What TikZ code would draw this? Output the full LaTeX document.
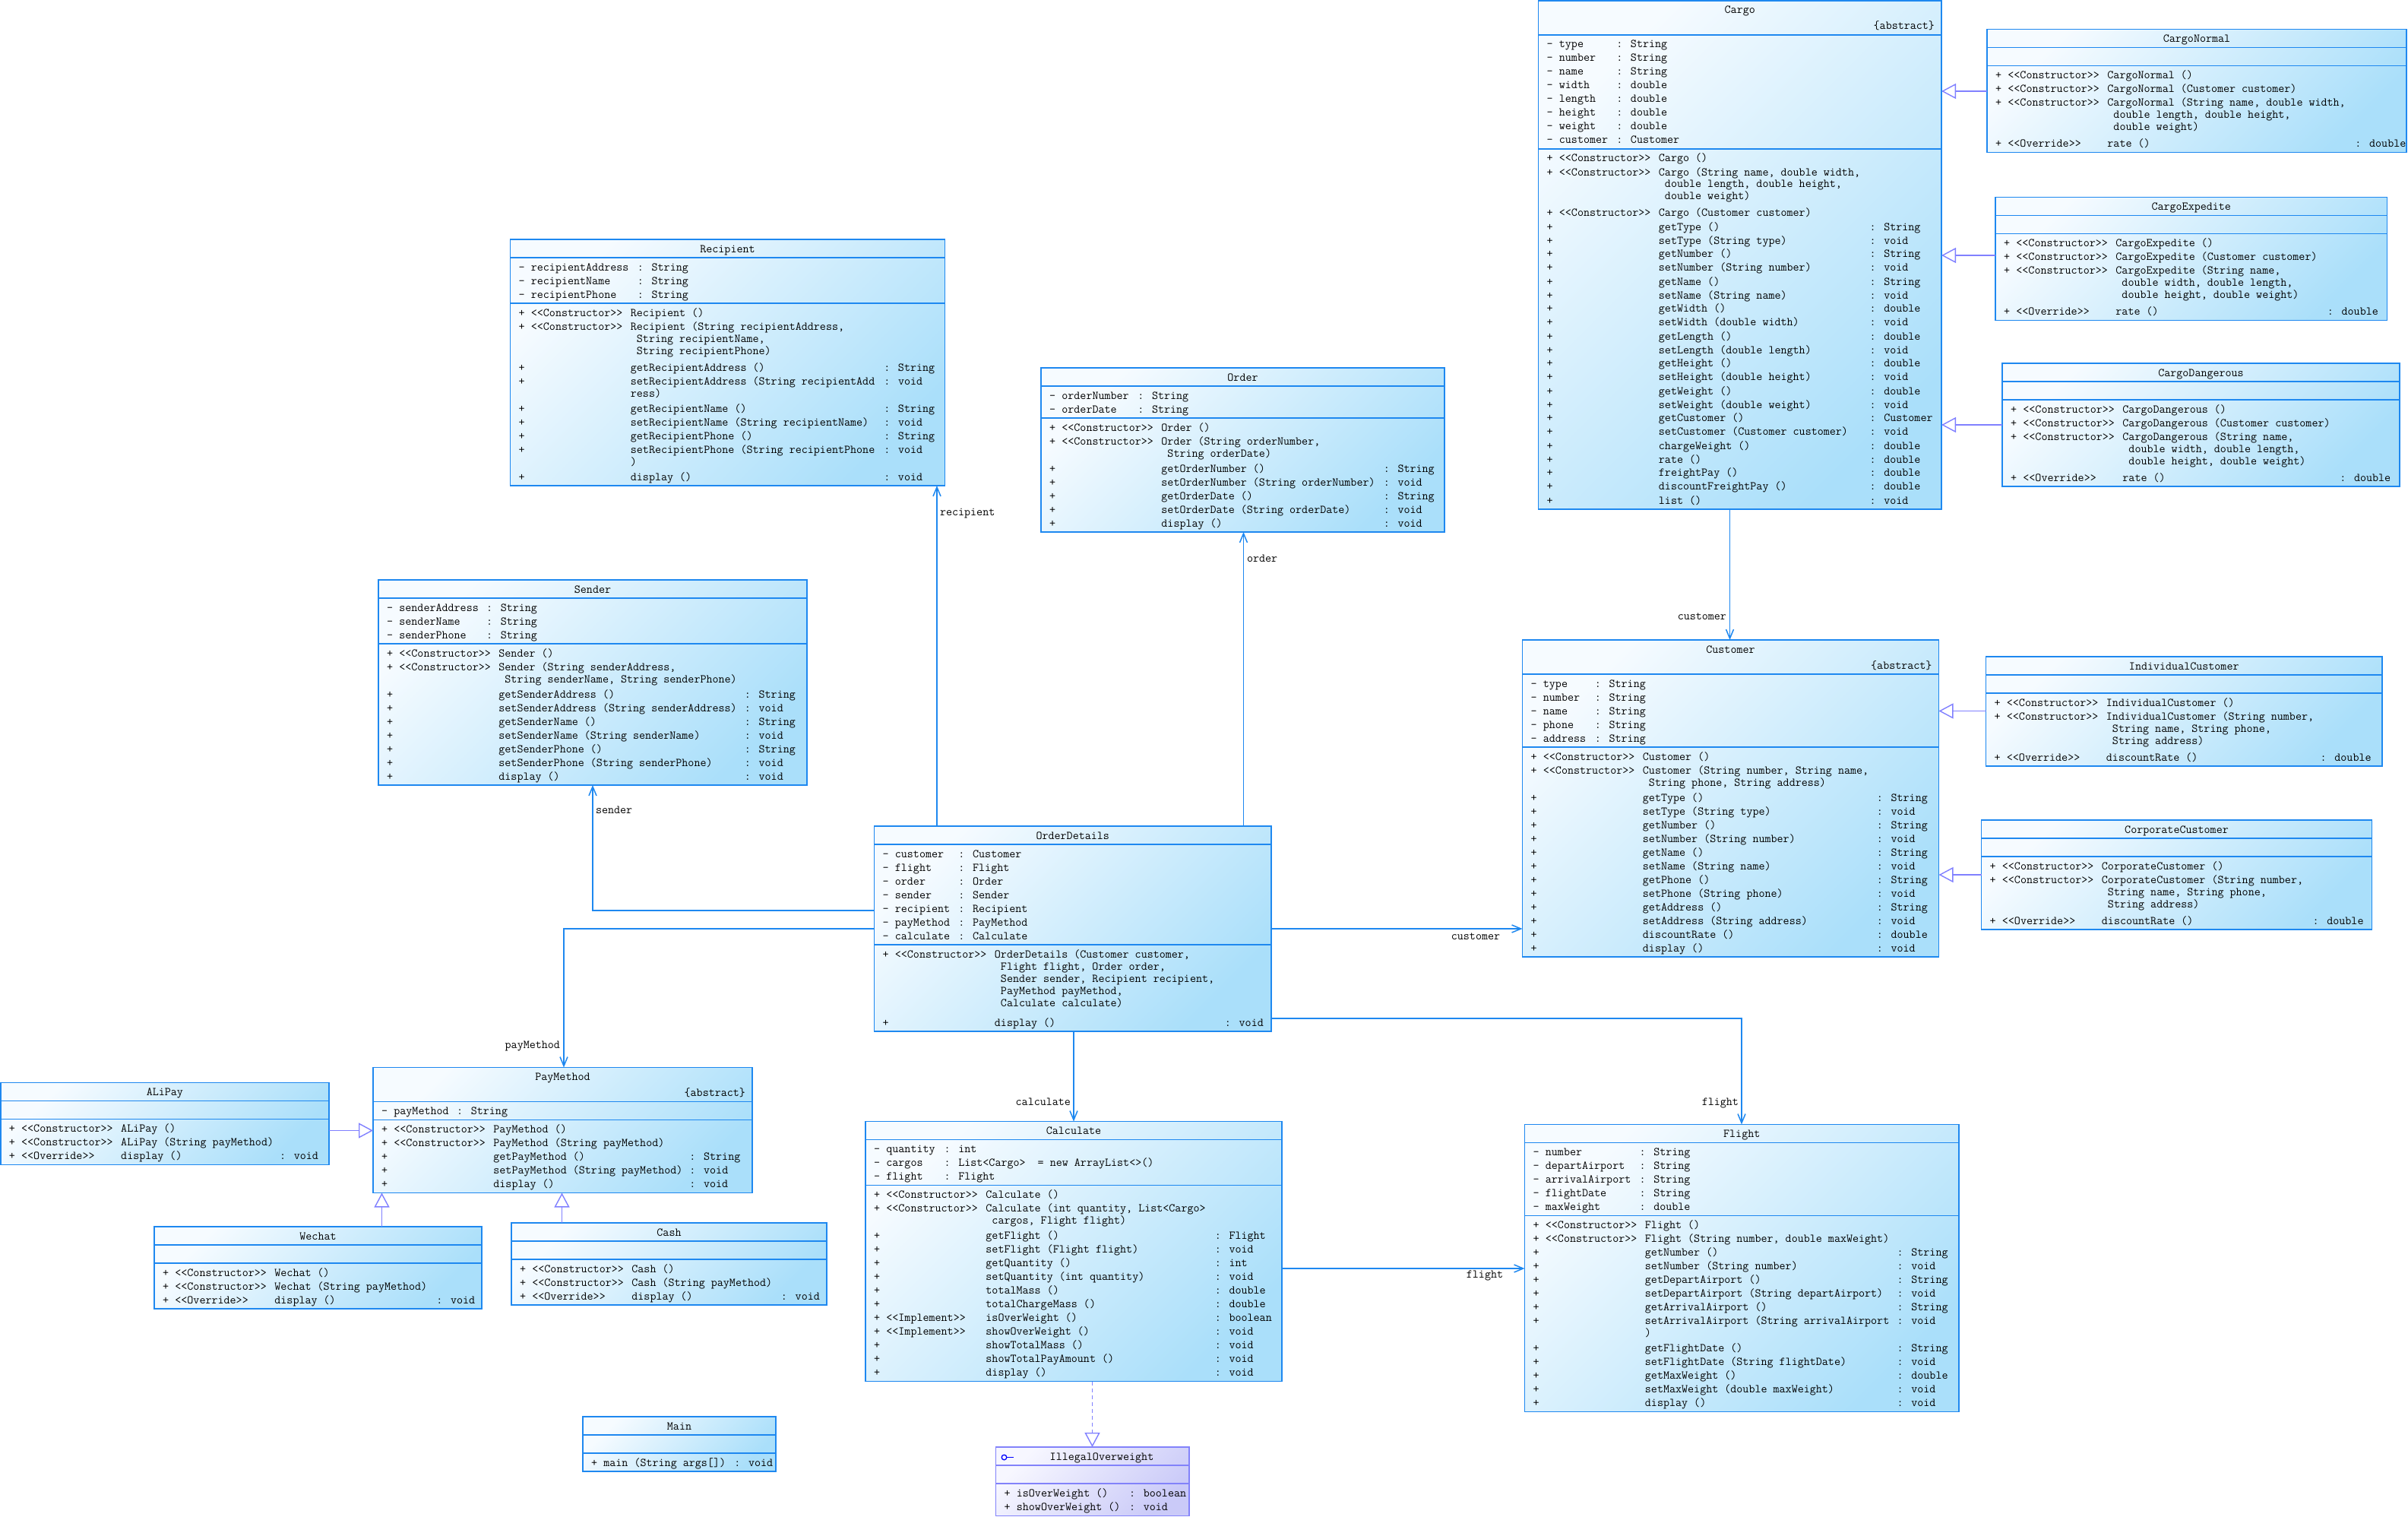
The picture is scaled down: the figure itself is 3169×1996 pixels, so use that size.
\documentclass[tikz,border=0pt]{standalone}
\usetikzlibrary{arrows.meta}
\definecolor{bc}{RGB}{30,136,240}
\definecolor{lt}{RGB}{246,251,255}
\definecolor{dk}{RGB}{170,223,250}
\definecolor{pc}{RGB}{130,130,250}
\definecolor{plt}{RGB}{247,247,255}
\definecolor{pdk}{RGB}{202,202,248}
\definecolor{gc}{RGB}{128,128,255}
\definecolor{icn}{RGB}{0,0,255}
\newlength\chw \setlength\chw{8.19pt}
\newcount\ccnt
\newcommand\mono{\ttfamily\fontsize{15.6}{18}\selectfont}
\newcommand\atc[2]{\rlap{\hspace*{#1\chw}#2}}
\newcommand\prerow{\ifnum\ccnt>0 \vskip\numexpr2*\ccnt\relax pt\global\ccnt=0 \fi}
\newcommand\mrow[3]{\prerow\hbox{\atc{0}{+}\atc{2}{#1}\atc{\ncol}{#2}\ifx\relax#3\relax\else\atc{\ccol}{: #3}\fi}}
\newcommand\crow[1]{\vskip-2pt\global\advance\ccnt by 1\relax\hbox{\atc{\ncol}{#1}}}
\newcommand\arow[2]{\hbox{\atc{0}{-}\atc{2}{#1}\atc{\acol}{: #2}}}
\tikzset{
  cls/.style={draw=bc, line width=1.6pt, top color=lt, bottom color=dk, shading angle=45, inner sep=0pt, outer sep=0pt, anchor=north west},
  ifc/.style={draw=pc, line width=1.6pt, top color=plt, bottom color=pdk, shading angle=45, inner sep=0pt, outer sep=0pt, anchor=north west},
  sep/.style={draw=bc, line width=1.5pt},
  psep/.style={draw=pc, line width=1.5pt},
  tx/.style={font=\mono, inner sep=0pt, outer sep=0pt, text=black},
  assoc/.style={draw=bc, line width=1.5pt, -{Straight Barb[length=12pt,width=10pt]}},
  gen/.style={draw=gc, line width=1.4pt, -{Triangle[open,length=19pt,width=20pt]}},
  real/.style={gen, dash pattern=on 5pt off 4pt},
}
\newcommand\ubox[6]{\node[#6, minimum width={(#4-#2)*1pt}, minimum height={(#5-#3)*1pt}] (#1) at (#2,#3) {};}
\newcommand\comp[4]{\node[tx, anchor=base west] (#1) at (#2,#3) {\global\ccnt=0\relax\vtop{#4}};}
\begin{document}
\begin{tikzpicture}[x=1pt,y=-1pt]
\fill[white] (0,0) rectangle (3169,1996);
\useasboundingbox (0,0) rectangle (3169,1996);

% ---------------- Cargo
\ubox{cargo}{2024.5}{1}{2555}{670}{cls}
\draw[sep] (2024.5,46) -- (2555,46);
\draw[sep] (2024.5,196) -- (2555,196);
\node[tx,anchor=base] (cargo-t) at (2289.75,18) {Cargo};
\node[tx,anchor=base east] (cargo-s) at (2546,39) {\{abstract\}};
\comp{cargo-a}{2035}{63}{\def\acol{11.2}
\arow{type}{String}
\arow{number}{String}
\arow{name}{String}
\arow{width}{double}
\arow{length}{double}
\arow{height}{double}
\arow{weight}{double}
\arow{customer}{Customer}}
\comp{cargo-m}{2035}{213}{\def\ncol{18}\def\ccol{51.9}
\mrow{<<Constructor>>}{Cargo ()}{}
\mrow{<<Constructor>>}{Cargo (String name, double width,}{}
\crow{\ double length, double height,}
\crow{\ double weight)}
\mrow{<<Constructor>>}{Cargo (Customer customer)}{}
\mrow{}{getType ()}{String}
\mrow{}{setType (String type)}{void}
\mrow{}{getNumber ()}{String}
\mrow{}{setNumber (String number)}{void}
\mrow{}{getName ()}{String}
\mrow{}{setName (String name)}{void}
\mrow{}{getWidth ()}{double}
\mrow{}{setWidth (double width)}{void}
\mrow{}{getLength ()}{double}
\mrow{}{setLength (double length)}{void}
\mrow{}{getHeight ()}{double}
\mrow{}{setHeight (double height)}{void}
\mrow{}{getWeight ()}{double}
\mrow{}{setWeight (double weight)}{void}
\mrow{}{getCustomer ()}{Customer}
\mrow{}{setCustomer (Customer customer)}{void}
\mrow{}{chargeWeight ()}{double}
\mrow{}{rate ()}{double}
\mrow{}{freightPay ()}{double}
\mrow{}{discountFreightPay ()}{double}
\mrow{}{list ()}{void}}

% ---------------- CargoNormal
\ubox{cnorm}{2615}{38.5}{3167}{200.5}{cls}
\draw[sep] (2615,62.5) -- (3167,62.5);
\draw[sep] (2615,86.5) -- (3167,86.5);
\node[tx,anchor=base] (cnorm-t) at (2891,55.5) {CargoNormal};
\comp{cnorm-m}{2625.5}{103.5}{\def\ncol{18}\def\ccol{57.8}
\mrow{<<Constructor>>}{CargoNormal ()}{}
\mrow{<<Constructor>>}{CargoNormal (Customer customer)}{}
\mrow{<<Constructor>>}{CargoNormal (String name, double width,}{}
\crow{\ double length, double height,}
\crow{\ double weight)}
\mrow{<<Override>>}{rate ()}{double}}

% ---------------- CargoExpedite
\ubox{cexp}{2626}{259.5}{3141.5}{421.5}{cls}
\draw[sep] (2626,283.5) -- (3141.5,283.5);
\draw[sep] (2626,307.5) -- (3141.5,307.5);
\node[tx,anchor=base] (cexp-t) at (2883.75,276.5) {CargoExpedite};
\comp{cexp-m}{2636.5}{324.5}{\def\ncol{18}\def\ccol{52}
\mrow{<<Constructor>>}{CargoExpedite ()}{}
\mrow{<<Constructor>>}{CargoExpedite (Customer customer)}{}
\mrow{<<Constructor>>}{CargoExpedite (String name,}{}
\crow{\ double width, double length,}
\crow{\ double height, double weight)}
\mrow{<<Override>>}{rate ()}{double}}

% ---------------- CargoDangerous
\ubox{cdng}{2635}{478}{3158}{640}{cls}
\draw[sep] (2635,502) -- (3158,502);
\draw[sep] (2635,526) -- (3158,526);
\node[tx,anchor=base] (cdng-t) at (2896.5,495) {CargoDangerous};
\comp{cdng-m}{2645.5}{543}{\def\ncol{18}\def\ccol{52.9}
\mrow{<<Constructor>>}{CargoDangerous ()}{}
\mrow{<<Constructor>>}{CargoDangerous (Customer customer)}{}
\mrow{<<Constructor>>}{CargoDangerous (String name,}{}
\crow{\ double width, double length,}
\crow{\ double height, double weight)}
\mrow{<<Override>>}{rate ()}{double}}

% ---------------- Recipient
\ubox{recipient}{671.5}{315}{1243.5}{639}{cls}
\draw[sep] (671.5,339) -- (1243.5,339);
\draw[sep] (671.5,399) -- (1243.5,399);
\node[tx,anchor=base] (recipient-t) at (957.5,332) {Recipient};
\comp{recipient-a}{682}{356}{\def\acol{19.1}
\arow{recipientAddress}{String}
\arow{recipientName}{String}
\arow{recipientPhone}{String}}
\comp{recipient-m}{682}{416}{\def\ncol{18}\def\ccol{58.7}
\mrow{<<Constructor>>}{Recipient ()}{}
\mrow{<<Constructor>>}{Recipient (String recipientAddress,}{}
\crow{\ String recipientName,}
\crow{\ String recipientPhone)}
\mrow{}{getRecipientAddress ()}{String}
\mrow{}{setRecipientAddress (String recipientAdd}{void}
\crow{ress)}
\mrow{}{getRecipientName ()}{String}
\mrow{}{setRecipientName (String recipientName)}{void}
\mrow{}{getRecipientPhone ()}{String}
\mrow{}{setRecipientPhone (String recipientPhone}{void}
\crow{)}
\mrow{}{display ()}{void}}

% ---------------- Order
\ubox{order}{1370}{484}{1901}{700}{cls}
\draw[sep] (1370,508) -- (1901,508);
\draw[sep] (1370,550) -- (1901,550);
\node[tx,anchor=base] (order-t) at (1635.5,501) {Order};
\comp{order-a}{1380.5}{525}{\def\acol{14.2}
\arow{orderNumber}{String}
\arow{orderDate}{String}}
\comp{order-m}{1380.5}{567}{\def\ncol{18}\def\ccol{53.7}
\mrow{<<Constructor>>}{Order ()}{}
\mrow{<<Constructor>>}{Order (String orderNumber,}{}
\crow{\ String orderDate)}
\mrow{}{getOrderNumber ()}{String}
\mrow{}{setOrderNumber (String orderNumber)}{void}
\mrow{}{getOrderDate ()}{String}
\mrow{}{setOrderDate (String orderDate)}{void}
\mrow{}{display ()}{void}}

% ---------------- Sender
\ubox{sender}{498}{763}{1062}{1033}{cls}
\draw[sep] (498,787) -- (1062,787);
\draw[sep] (498,847) -- (1062,847);
\node[tx,anchor=base] (sender-t) at (780,780) {Sender};
\comp{sender-a}{508.5}{804}{\def\acol{16}
\arow{senderAddress}{String}
\arow{senderName}{String}
\arow{senderPhone}{String}}
\comp{sender-m}{508.5}{864}{\def\ncol{18}\def\ccol{57.5}
\mrow{<<Constructor>>}{Sender ()}{}
\mrow{<<Constructor>>}{Sender (String senderAddress,}{}
\crow{\ String senderName, String senderPhone)}
\mrow{}{getSenderAddress ()}{String}
\mrow{}{setSenderAddress (String senderAddress)}{void}
\mrow{}{getSenderName ()}{String}
\mrow{}{setSenderName (String senderName)}{void}
\mrow{}{getSenderPhone ()}{String}
\mrow{}{setSenderPhone (String senderPhone)}{void}
\mrow{}{display ()}{void}}

% ---------------- Customer
\ubox{customer}{2003.5}{842}{2551.5}{1259}{cls}
\draw[sep] (2003.5,887) -- (2551.5,887);
\draw[sep] (2003.5,983) -- (2551.5,983);
\node[tx,anchor=base] (customer-t) at (2277.5,859) {Customer};
\node[tx,anchor=base east] (customer-s) at (2542.5,880) {\{abstract\}};
\comp{customer-a}{2014}{904}{\def\acol{10.3}
\arow{type}{String}
\arow{number}{String}
\arow{name}{String}
\arow{phone}{String}
\arow{address}{String}}
\comp{customer-m}{2014}{1000}{\def\ncol{18}\def\ccol{55.6}
\mrow{<<Constructor>>}{Customer ()}{}
\mrow{<<Constructor>>}{Customer (String number, String name,}{}
\crow{\ String phone, String address)}
\mrow{}{getType ()}{String}
\mrow{}{setType (String type)}{void}
\mrow{}{getNumber ()}{String}
\mrow{}{setNumber (String number)}{void}
\mrow{}{getName ()}{String}
\mrow{}{setName (String name)}{void}
\mrow{}{getPhone ()}{String}
\mrow{}{setPhone (String phone)}{void}
\mrow{}{getAddress ()}{String}
\mrow{}{setAddress (String address)}{void}
\mrow{}{discountRate ()}{double}
\mrow{}{display ()}{void}}

% ---------------- IndividualCustomer
\ubox{indiv}{2613.5}{864}{3135}{1008}{cls}
\draw[sep] (2613.5,888) -- (3135,888);
\draw[sep] (2613.5,912) -- (3135,912);
\node[tx,anchor=base] (indiv-t) at (2874.25,881) {IndividualCustomer};
\comp{indiv-m}{2624}{929}{\def\ncol{18}\def\ccol{52.4}
\mrow{<<Constructor>>}{IndividualCustomer ()}{}
\mrow{<<Constructor>>}{IndividualCustomer (String number,}{}
\crow{\ String name, String phone,}
\crow{\ String address)}
\mrow{<<Override>>}{discountRate ()}{double}}

% ---------------- CorporateCustomer
\ubox{corp}{2607.5}{1079}{3121.5}{1223}{cls}
\draw[sep] (2607.5,1103) -- (3121.5,1103);
\draw[sep] (2607.5,1127) -- (3121.5,1127);
\node[tx,anchor=base] (corp-t) at (2864.5,1096) {CorporateCustomer};
\comp{corp-m}{2618}{1144}{\def\ncol{18}\def\ccol{51.9}
\mrow{<<Constructor>>}{CorporateCustomer ()}{}
\mrow{<<Constructor>>}{CorporateCustomer (String number,}{}
\crow{\ String name, String phone,}
\crow{\ String address)}
\mrow{<<Override>>}{discountRate ()}{double}}

% ---------------- OrderDetails
\ubox{od}{1150.5}{1087}{1673}{1357}{cls}
\draw[sep] (1150.5,1111) -- (1673,1111);
\draw[sep] (1150.5,1243) -- (1673,1243);
\node[tx,anchor=base] (od-t) at (1411.75,1104) {OrderDetails};
\comp{od-a}{1161}{1128}{\def\acol{12.2}
\arow{customer}{Customer}
\arow{flight}{Flight}
\arow{order}{Order}
\arow{sender}{Sender}
\arow{recipient}{Recipient}
\arow{payMethod}{PayMethod}
\arow{calculate}{Calculate}}
\comp{od-m}{1161}{1260}{\def\ncol{18}\def\ccol{55}
\mrow{<<Constructor>>}{OrderDetails (Customer customer,}{}
\crow{\ Flight flight, Order order,}
\crow{\ Sender sender, Recipient recipient,}
\crow{\ PayMethod payMethod,}
\crow{\ Calculate calculate)}
\mrow{}{display ()}{void}}

% ---------------- PayMethod
\ubox{paym}{491}{1404.5}{990}{1569.5}{cls}
\draw[sep] (491,1449.5) -- (990,1449.5);
\draw[sep] (491,1473.5) -- (990,1473.5);
\node[tx,anchor=base] (paym-t) at (740.5,1421.5) {PayMethod};
\node[tx,anchor=base east] (paym-s) at (981,1442.5) {\{abstract\}};
\comp{paym-a}{501.5}{1466.5}{\def\acol{12.1}
\arow{payMethod}{String}}
\comp{paym-m}{501.5}{1490.5}{\def\ncol{18}\def\ccol{49.5}
\mrow{<<Constructor>>}{PayMethod ()}{}
\mrow{<<Constructor>>}{PayMethod (String payMethod)}{}
\mrow{}{getPayMethod ()}{String}
\mrow{}{setPayMethod (String payMethod)}{void}
\mrow{}{display ()}{void}}

% ---------------- ALiPay
\ubox{alipay}{0.8}{1424.5}{433}{1532.5}{cls}
\draw[sep] (0.8,1448.5) -- (433,1448.5);
\draw[sep] (0.8,1472.5) -- (433,1472.5);
\node[tx,anchor=base] (alipay-t) at (216.9,1441.5) {ALiPay};
\comp{alipay-m}{11.3}{1489.5}{\def\ncol{18}\def\ccol{43.5}
\mrow{<<Constructor>>}{ALiPay ()}{}
\mrow{<<Constructor>>}{ALiPay (String payMethod)}{}
\mrow{<<Override>>}{display ()}{void}}

% ---------------- Wechat
\ubox{wechat}{203}{1614}{634}{1722}{cls}
\draw[sep] (203,1638) -- (634,1638);
\draw[sep] (203,1662) -- (634,1662);
\node[tx,anchor=base] (wechat-t) at (418.5,1631) {Wechat};
\comp{wechat-m}{213.5}{1679}{\def\ncol{18}\def\ccol{44}
\mrow{<<Constructor>>}{Wechat ()}{}
\mrow{<<Constructor>>}{Wechat (String payMethod)}{}
\mrow{<<Override>>}{display ()}{void}}

% ---------------- Cash
\ubox{cash}{673}{1609}{1088}{1717}{cls}
\draw[sep] (673,1633) -- (1088,1633);
\draw[sep] (673,1657) -- (1088,1657);
\node[tx,anchor=base] (cash-t) at (880.5,1626) {Cash};
\comp{cash-m}{683.5}{1674}{\def\ncol{18}\def\ccol{42}
\mrow{<<Constructor>>}{Cash ()}{}
\mrow{<<Constructor>>}{Cash (String payMethod)}{}
\mrow{<<Override>>}{display ()}{void}}

% ---------------- Calculate
\ubox{calc}{1139}{1475.5}{1687}{1817.5}{cls}
\draw[sep] (1139,1499.5) -- (1687,1499.5);
\draw[sep] (1139,1559.5) -- (1687,1559.5);
\node[tx,anchor=base] (calc-t) at (1413,1492.5) {Calculate};
\comp{calc-a}{1149.5}{1516.5}{\def\acol{11.3}
\arow{quantity}{int}
\arow{cargos}{List<Cargo>\ \ = new ArrayList<>()}
\arow{flight}{Flight}}
\comp{calc-m}{1149.5}{1576.5}{\def\ncol{18}\def\ccol{54.8}
\mrow{<<Constructor>>}{Calculate ()}{}
\mrow{<<Constructor>>}{Calculate (int quantity, List<Cargo>}{}
\crow{\ cargos, Flight flight)}
\mrow{}{getFlight ()}{Flight}
\mrow{}{setFlight (Flight flight)}{void}
\mrow{}{getQuantity ()}{int}
\mrow{}{setQuantity (int quantity)}{void}
\mrow{}{totalMass ()}{double}
\mrow{}{totalChargeMass ()}{double}
\mrow{<<Implement>>}{isOverWeight ()}{boolean}
\mrow{<<Implement>>}{showOverWeight ()}{void}
\mrow{}{showTotalMass ()}{void}
\mrow{}{showTotalPayAmount ()}{void}
\mrow{}{display ()}{void}}

% ---------------- Flight
\ubox{flight}{2006.5}{1479.5}{2578}{1857.5}{cls}
\draw[sep] (2006.5,1503.5) -- (2578,1503.5);
\draw[sep] (2006.5,1599.5) -- (2578,1599.5);
\node[tx,anchor=base] (flight-t) at (2292.25,1496.5) {Flight};
\comp{flight-a}{2017}{1520.5}{\def\acol{17.1}
\arow{number}{String}
\arow{departAirport}{String}
\arow{arrivalAirport}{String}
\arow{flightDate}{String}
\arow{maxWeight}{double}}
\comp{flight-m}{2017}{1616.5}{\def\ncol{18}\def\ccol{58.5}
\mrow{<<Constructor>>}{Flight ()}{}
\mrow{<<Constructor>>}{Flight (String number, double maxWeight)}{}
\mrow{}{getNumber ()}{String}
\mrow{}{setNumber (String number)}{void}
\mrow{}{getDepartAirport ()}{String}
\mrow{}{setDepartAirport (String departAirport)}{void}
\mrow{}{getArrivalAirport ()}{String}
\mrow{}{setArrivalAirport (String arrivalAirport}{void}
\crow{)}
\mrow{}{getFlightDate ()}{String}
\mrow{}{setFlightDate (String flightDate)}{void}
\mrow{}{getMaxWeight ()}{double}
\mrow{}{setMaxWeight (double maxWeight)}{void}
\mrow{}{display ()}{void}}

% ---------------- Main
\ubox{main}{767}{1864}{1021}{1936}{cls}
\draw[sep] (767,1888) -- (1021,1888);
\draw[sep] (767,1912) -- (1021,1912);
\node[tx,anchor=base] (main-t) at (894,1881) {Main};
\comp{main-m}{777.5}{1929}{\def\ncol{2}\def\ccol{23}
\mrow{}{main (String args[])}{void}}

% ---------------- IllegalOverweight (interface)
\ubox{illegal}{1310.5}{1904}{1565}{1994.5}{ifc}
\draw[psep] (1310.5,1928) -- (1565,1928);
\draw[psep] (1310.5,1952) -- (1565,1952);
\draw[icn, line width=1.3pt] (1321.5,1917.5) circle[radius=3.3pt];
\draw[icn, line width=1.3pt] (1324.8,1917.5) -- (1333.5,1917.5);
\node[tx,anchor=base] (illegal-t) at (1450,1921) {IllegalOverweight};
\comp{illegal-m}{1321}{1969}{\def\ncol{2}\def\ccol{20.1}
\mrow{}{isOverWeight ()}{boolean}
\mrow{}{showOverWeight ()}{void}}

% ---------------- associations
\coordinate (kRec) at (1233,0);
\coordinate (kOrd) at (1636.5,0);
\coordinate (kSnd) at (780,1198);
\coordinate (kPay) at (742,1222);
\coordinate (kCus) at (0,1222);
\coordinate (kFlt) at (2292,1340);
\coordinate (kCal) at (1413,0);
\coordinate (kCgo) at (2276.5,0);
\coordinate (kCF) at (0,1669);
\draw[assoc] (kRec |- od.north) -- (kRec |- recipient.south);
\draw[assoc] (kOrd |- od.north) -- (kOrd |- order.south);
\draw[assoc] (kSnd -| od.west) -- (kSnd) -- (kSnd |- sender.south);
\draw[assoc] (kPay -| od.west) -- (kPay) -- (kPay |- paym.north);
\draw[assoc] (kCus -| od.east) -- (kCus -| customer.west);
\draw[assoc] (kFlt -| od.east) -- (kFlt) -- (kFlt |- flight.north);
\draw[assoc] (kCal |- od.south) -- (kCal |- calc.north);
\draw[assoc] (kCgo |- cargo.south) -- (kCgo |- customer.north);
\draw[assoc] (kCF -| calc.east) -- (kCF -| flight.west);

\node[tx,anchor=base west] (l-rec) at (1237,678) {recipient};
\node[tx,anchor=base west] (l-ord) at (1641,739) {order};
\node[tx,anchor=base west] (l-snd) at (784,1070) {sender};
\node[tx,anchor=base east] (l-pay) at (737,1379) {payMethod};
\node[tx,anchor=base] (l-cus) at (1942,1236) {customer};
\node[tx,anchor=base east] (l-cgo) at (2272,815) {customer};
\node[tx,anchor=base east] (l-cal) at (1409,1454) {calculate};
\node[tx,anchor=base east] (l-flt) at (2288,1454) {flight};
\node[tx,anchor=base] (l-cf) at (1954,1681) {flight};

% ---------------- generalizations
\coordinate (gN) at (0,120);
\coordinate (gE) at (0,336);
\coordinate (gD) at (0,559);
\coordinate (gI) at (0,935.5);
\coordinate (gC) at (0,1151);
\coordinate (gA) at (0,1487.5);
\coordinate (gW) at (502.5,0);
\coordinate (gS) at (739.5,0);
\coordinate (gR) at (1437.5,0);
\draw[gen] (gN -| cnorm.west) -- (gN -| cargo.east);
\draw[gen] (gE -| cexp.west) -- (gE -| cargo.east);
\draw[gen] (gD -| cdng.west) -- (gD -| cargo.east);
\draw[gen] (gI -| indiv.west) -- (gI -| customer.east);
\draw[gen] (gC -| corp.west) -- (gC -| customer.east);
\draw[gen] (gA -| alipay.east) -- (gA -| paym.west);
\draw[gen] (gW |- wechat.north) -- (gW |- paym.south);
\draw[gen] (gS |- cash.north) -- (gS |- paym.south);
\draw[real] (gR |- calc.south) -- (gR |- illegal.north);
\end{tikzpicture}
\end{document}
